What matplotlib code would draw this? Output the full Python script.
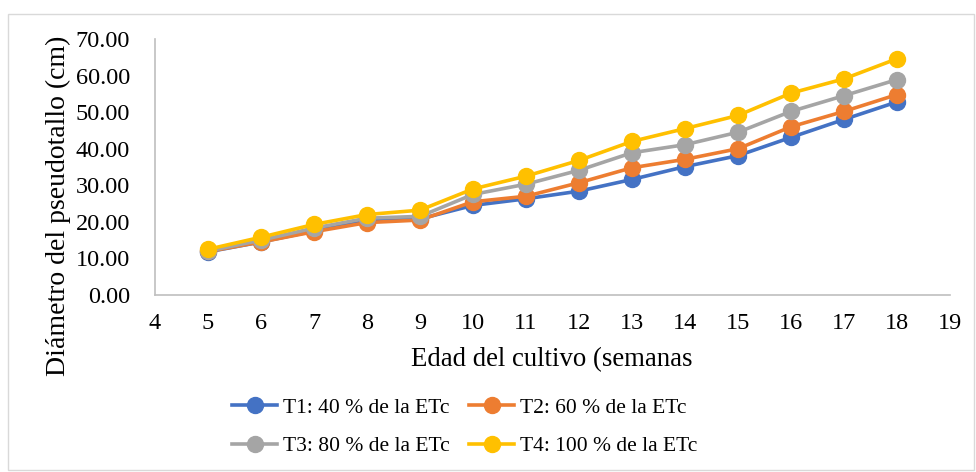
import matplotlib
matplotlib.use("Agg")
import matplotlib.pyplot as plt
from matplotlib.patches import Rectangle

weeks = [5, 6, 7, 8, 9, 10, 11, 12, 13, 14, 15, 16, 17, 18]
t1 = [11.8, 14.5, 17.5, 20.2, 20.8, 24.5, 26.3, 28.4, 31.6, 35.1, 38.1, 43.1, 48.0, 52.8]
t2 = [11.9, 14.5, 17.3, 19.8, 20.5, 25.5, 27.0, 30.7, 34.8, 37.1, 40.0, 46.0, 50.2, 54.8]
t3 = [12.0, 15.0, 18.3, 21.0, 21.5, 27.5, 30.3, 34.1, 38.9, 41.1, 44.5, 50.2, 54.5, 58.9]
t4 = [12.5, 15.8, 19.3, 22.0, 23.2, 29.0, 32.5, 36.8, 42.0, 45.5, 49.1, 55.2, 59.1, 64.6]
labels = ["T1: 40 % de la ETc", "T2: 60 % de la ETc", "T3: 80 % de la ETc", "T4: 100 % de la ETc"]
colors = ["#4472C4", "#ED7D31", "#A5A5A5", "#FFC000"]
xticks = list(range(4, 20))
yticks = [0, 10, 20, 30, 40, 50, 60, 70]

plt.rcParams['font.family'] = ['Liberation Serif', 'DejaVu Serif']

fig = plt.figure(figsize=(9.76, 4.72), dpi=100)
fig.patches.append(Rectangle((8/976, 2/472), 966/976, 456/472, transform=fig.transFigure,
                             fill=False, edgecolor="#D9D9D9", linewidth=1))
ax = fig.add_axes([155/976, 1-295/472, 795/976, 256/472])

series = [t1, t2, t3, t4]
handles = []
for s, lab, c in zip(series, labels, colors):
    h, = ax.plot(weeks, s, color=c, linewidth=2.6, marker='o', markersize=11.5, label=lab)
    handles.append(h)

ax.set_xlim(4, 19)
ax.set_ylim(0, 70)
ax.set_xticks(xticks)
ax.set_yticks(yticks)
ax.set_yticklabels([f"{v:.2f}" for v in yticks])
ax.tick_params(length=0, labelsize=17.5, colors="#000000")
ax.tick_params(axis='x', pad=13)
ax.tick_params(axis='y', pad=18)
for sp in ['top', 'right']:
    ax.spines[sp].set_visible(False)
for sp in ['left', 'bottom']:
    ax.spines[sp].set_color("#BFBFBF")
    ax.spines[sp].set_linewidth(1.2)

ax.set_xlabel("Edad del cultivo (semanas", fontsize=19.3)
ax.xaxis.set_label_coords((552 - 155) / 795, -(360 - 295) / 256)
ax.xaxis.label.set_va('center')
ax.set_ylabel("Diámetro del pseudotallo (cm)", fontsize=20)
ax.yaxis.set_label_coords((58 - 155) / 795, (295 - 206) / 256)
ax.yaxis.label.set_va('center')

# column-major ordering so rows read T1,T2 / T3,T4
order = [0, 2, 1, 3]
fig.legend([handles[i] for i in order], [labels[i] for i in order],
           loc='center', bbox_to_anchor=(0.476, 0.095), ncol=2, frameon=False,
           fontsize=15.5, handlelength=2.1, columnspacing=0.9, handletextpad=0.25,
           labelspacing=0.85)

fig.savefig("out.png", dpi=100)
